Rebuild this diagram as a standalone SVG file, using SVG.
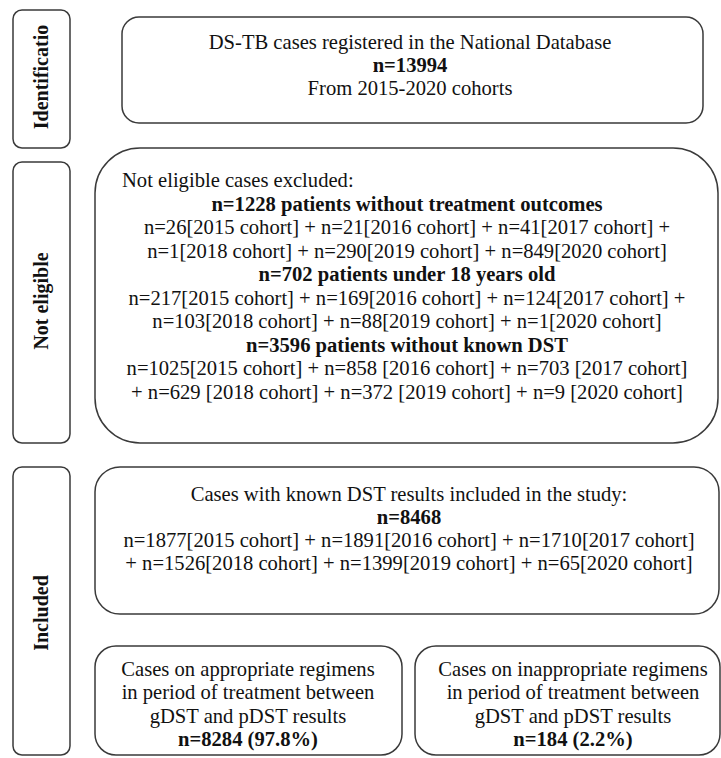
<svg xmlns="http://www.w3.org/2000/svg" width="721" height="758" viewBox="0 0 721 758">
<style>
.box{fill:#fff;stroke:#3a3a3a;stroke-width:1.5}
.t{font-family:"Liberation Serif","Times New Roman",serif;font-size:20.6px;fill:#111;text-anchor:middle}
.b{font-weight:bold}
.l{text-anchor:start}
.side{font-family:"Liberation Serif","Times New Roman",serif;font-size:20px;font-weight:bold;fill:#111;text-anchor:middle}
</style>
<rect width="721" height="758" fill="#fff"/>
<g id="side-identification">
<rect class="box" x="13" y="10" width="57" height="138" rx="9"/>
<text class="side" transform="translate(48,77) rotate(-90)">Identificatio</text>
</g>
<g id="side-not-eligible">
<rect class="box" x="13" y="162" width="57" height="281" rx="9"/>
<text class="side" transform="translate(48,301) rotate(-90)">Not eligible</text>
</g>
<g id="side-included">
<rect class="box" x="13" y="467" width="57" height="288" rx="9"/>
<text class="side" transform="translate(48,613) rotate(-90)">Included</text>
</g>
<g id="registered">
<rect class="box" x="122" y="17" width="581" height="106" rx="17"/>
<text class="t" x="410" y="49">DS-TB cases registered in the National Database</text>
<text class="t b" x="410" y="72">n=13994</text>
<text class="t" x="410" y="95">From 2015-2020 cohorts</text>
</g>
<g id="excluded">
<rect class="box" x="95" y="148" width="623" height="295" rx="45"/>
<text class="t l" x="122" y="187">Not eligible cases excluded:</text>
<text class="t b" x="407" y="210.5">n=1228 patients without treatment outcomes</text>
<text class="t" x="407" y="234">n=26[2015 cohort] + n=21[2016 cohort] + n=41[2017 cohort] +</text>
<text class="t" x="407" y="257.5">n=1[2018 cohort] + n=290[2019 cohort] + n=849[2020 cohort]</text>
<text class="t b" x="407" y="281">n=702 patients under 18 years old</text>
<text class="t" x="407" y="304.5">n=217[2015 cohort] + n=169[2016 cohort] + n=124[2017 cohort] +</text>
<text class="t" x="407" y="328">n=103[2018 cohort] + n=88[2019 cohort] + n=1[2020 cohort]</text>
<text class="t b" x="407" y="351.5">n=3596 patients without known DST</text>
<text class="t" x="407" y="375">n=1025[2015 cohort] + n=858 [2016 cohort] + n=703 [2017 cohort]</text>
<text class="t" x="407" y="398.5">+ n=629 [2018 cohort] + n=372 [2019 cohort] + n=9 [2020 cohort]</text>
</g>
<g id="included">
<rect class="box" x="95" y="467" width="624" height="147" rx="25"/>
<text class="t" x="409" y="501">Cases with known DST results included in the study:</text>
<text class="t b" x="409" y="524">n=8468</text>
<text class="t" x="409" y="547">n=1877[2015 cohort] + n=1891[2016 cohort] + n=1710[2017 cohort]</text>
<text class="t" x="409" y="570">+ n=1526[2018 cohort] + n=1399[2019 cohort] + n=65[2020 cohort]</text>
</g>
<g id="appropriate">
<rect class="box" x="95" y="646" width="307" height="109" rx="21"/>
<text class="t" x="248" y="676">Cases on appropriate regimens</text>
<text class="t" x="248" y="699">in period of treatment between</text>
<text class="t" x="248" y="723">gDST and pDST results</text>
<text class="t b" x="248" y="746">n=8284 (97.8%)</text>
</g>
<g id="inappropriate">
<rect class="box" x="415" y="646" width="305" height="109" rx="21"/>
<text class="t" x="573" y="676">Cases on inappropriate regimens</text>
<text class="t" x="573" y="699">in period of treatment between</text>
<text class="t" x="573" y="723">gDST and pDST results</text>
<text class="t b" x="573" y="746">n=184 (2.2%)</text>
</g>
<g id="connectors"></g>
</svg>
